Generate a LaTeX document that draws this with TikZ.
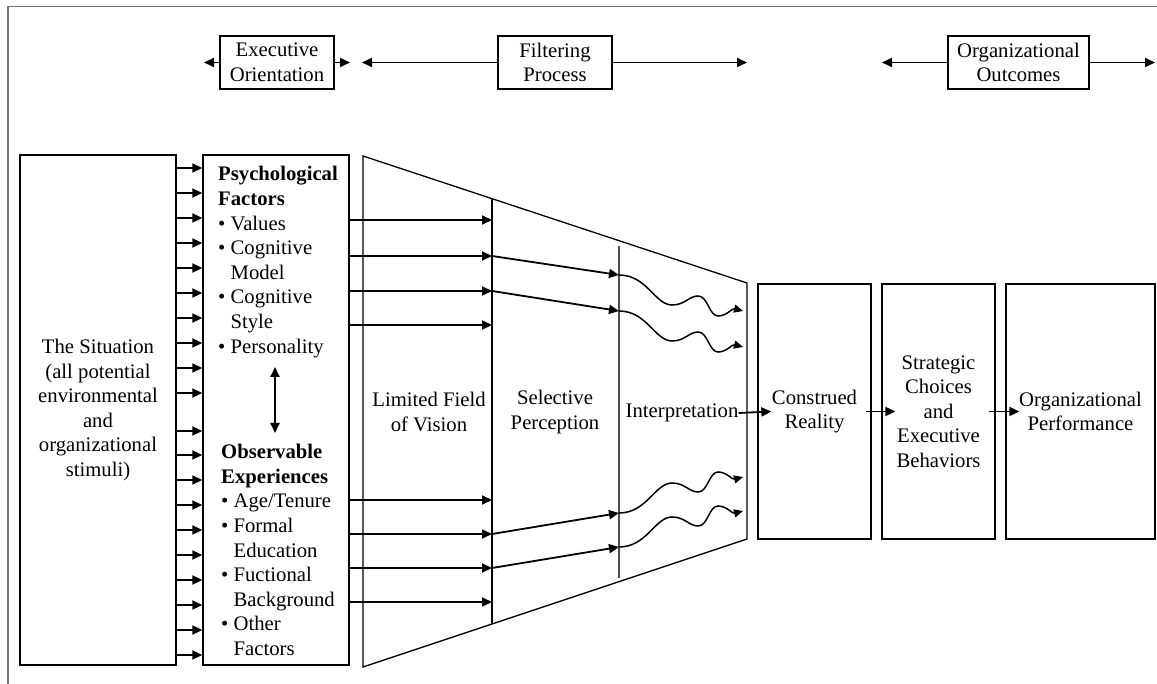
\documentclass[tikz,border=0pt]{standalone}
\usepackage{fontspec}
\setmainfont{Liberation Serif}
\usetikzlibrary{arrows.meta}
\begin{document}
\begin{tikzpicture}[x=1pt,y=-1pt,
  every node/.style={font=\fontsize{20.7}{24.6}\selectfont, inner sep=0pt},
  frm/.style={draw=black!55, line width=1.5pt},
  box/.style={draw, line width=1.3pt, align=center},
  lst/.style={align=left},
  arr/.style={line width=1.8pt, -{Triangle[length=10pt,width=9pt]}},
  darr/.style={line width=1.8pt, {Triangle[length=10pt,width=9pt]}-{Triangle[length=10pt,width=9pt]}},
  warr/.style={line width=1.5pt, -{Triangle[length=9pt,width=8pt]}},
  fun/.style={line width=1.3pt},
  wave/.pic={\draw[warr] (0,0) .. controls (28,0) and (36,30) .. (53,30) .. controls (66,30) and (70,21) .. (79,21) .. controls (89,21) and (90,41) .. (99,41) .. controls (108,41) and (113,33) .. (124,36);}
]
\useasboundingbox (0,0) rectangle (1157,684);
\draw[frm] (8,684) -- (8,6.5) -- (1157,6.5);

% header
\node[box, minimum width=114pt, minimum height=53pt] (eo) at (277,62.5) {Executive\\Orientation};
\node[box, minimum width=114pt, minimum height=53pt] (fp) at (555,62.5) {Filtering\\Process};
\node[box, minimum width=141pt, minimum height=53pt] (oo) at (1018.5,62.5) {Organizational\\Outcomes};
\coordinate (eoL) at (204,62.5);
\coordinate (eoR) at (350,62.5);
\coordinate (fpL) at (362,62.5);
\coordinate (fpR) at (747,62.5);
\coordinate (ooL) at (882,62.5);
\coordinate (ooR) at (1155,62.5);
\draw[arr] (eo.west) -- (eoL);
\draw[arr] (eo.east) -- (eoR);
\draw[arr] (fp.west) -- (fpL);
\draw[arr] (fp.east) -- (fpR);
\draw[arr] (oo.west) -- (ooL);
\draw[arr] (oo.east) -- (ooR);

% situation and factors
\node[box, minimum width=156pt, minimum height=510pt] (sit) at (98,410)
  {The Situation\\(all potential\\environmental\\and\\organizational\\stimuli)};
\node[box, minimum width=146pt, minimum height=510pt] (psy) at (276,410) {};
\node[lst, anchor=west] (pf) at (218,262)
  {\textbf{Psychological}\\\textbf{Factors}\\\textbullet\ Values\\\textbullet\ Cognitive\\\phantom{\textbullet\ }Model\\\textbullet\ Cognitive\\\phantom{\textbullet\ }Style\\\textbullet\ Personality};
\node[lst, anchor=west] (oe) at (221,550)
  {\textbf{Observable}\\\textbf{Experiences}\\\textbullet\ Age/Tenure\\\textbullet\ Formal\\\phantom{\textbullet\ }Education\\\textbullet\ Fuctional\\\phantom{\textbullet\ }Background\\\textbullet\ Other\\\phantom{\textbullet\ }Factors};
\coordinate (pa) at (275,367);
\coordinate (pb) at (275,433);
\draw[darr] (pa) -- (pb);

\foreach \y in {168,193,218,243,268,293,318,343,368,393,431,455,480,505,530,555,580,605,630,655}{
  \coordinate (h) at (0,\y);
  \draw[arr] (sit.east |- h) -- (psy.west |- h);
}

% funnel
\coordinate (f1) at (363,156);
\coordinate (f2) at (747,283);
\coordinate (f3) at (747,539);
\coordinate (f4) at (363,667);
\draw[fun] (f1) -- (f2) -- (f3) -- (f4) -- cycle;
\coordinate (d1a) at (492,198.7);
\coordinate (d1b) at (492,624);
\coordinate (d2a) at (619,246);
\coordinate (d2b) at (619,578);
\draw[fun] (d1a) -- (d1b);
\draw[fun, draw=black!70] (d2a) -- (d2b);

\foreach \y in {220,256,291,325,500,534,568,602}{
  \coordinate (h) at (0,\y);
  \draw[arr] (psy.east |- h) -- (d1a |- h);
}

\coordinate (s1) at (492,256);  \coordinate (t1) at (619,275);
\coordinate (s2) at (492,291);  \coordinate (t2) at (619,311);
\coordinate (s3) at (492,534);  \coordinate (t3) at (619,513);
\coordinate (s4) at (492,568);  \coordinate (t4) at (619,547);
\draw[arr] (s1) -- (t1);
\draw[arr] (s2) -- (t2);
\draw[arr] (s3) -- (t3);
\draw[arr] (s4) -- (t4);
\pic at (t1) {wave};
\pic at (t2) {wave};
\pic[yscale=-1] at (t3) {wave};
\pic[yscale=-1] at (t4) {wave};

\node (lf) at (429,412) [align=center] {Limited Field\\of Vision};
\node (sp) at (555,412) [align=center] {Selective\\Perception};
\node (ip) at (682,413) {Interpretation};

% outcome boxes
\node[box, minimum width=113pt, minimum height=255pt] (cr) at (814.5,411.5) {Construed\\Reality};
\node[box, minimum width=113pt, minimum height=255pt] (sc) at (938.5,411.5) {Strategic\\Choices\\and\\Executive\\Behaviors};
\node[box, minimum width=149pt, minimum height=255pt] (op) at (1080.5,411.5) {Organizational\\Performance};

\draw[arr] (ip.east) -- ([xshift=14pt]cr.west);
\draw[arr] ([xshift=-6pt]cr.east) -- ([xshift=14pt]sc.west);
\draw[arr] ([xshift=-7pt]sc.east) -- ([xshift=14pt]op.west);
\end{tikzpicture}
\end{document}
